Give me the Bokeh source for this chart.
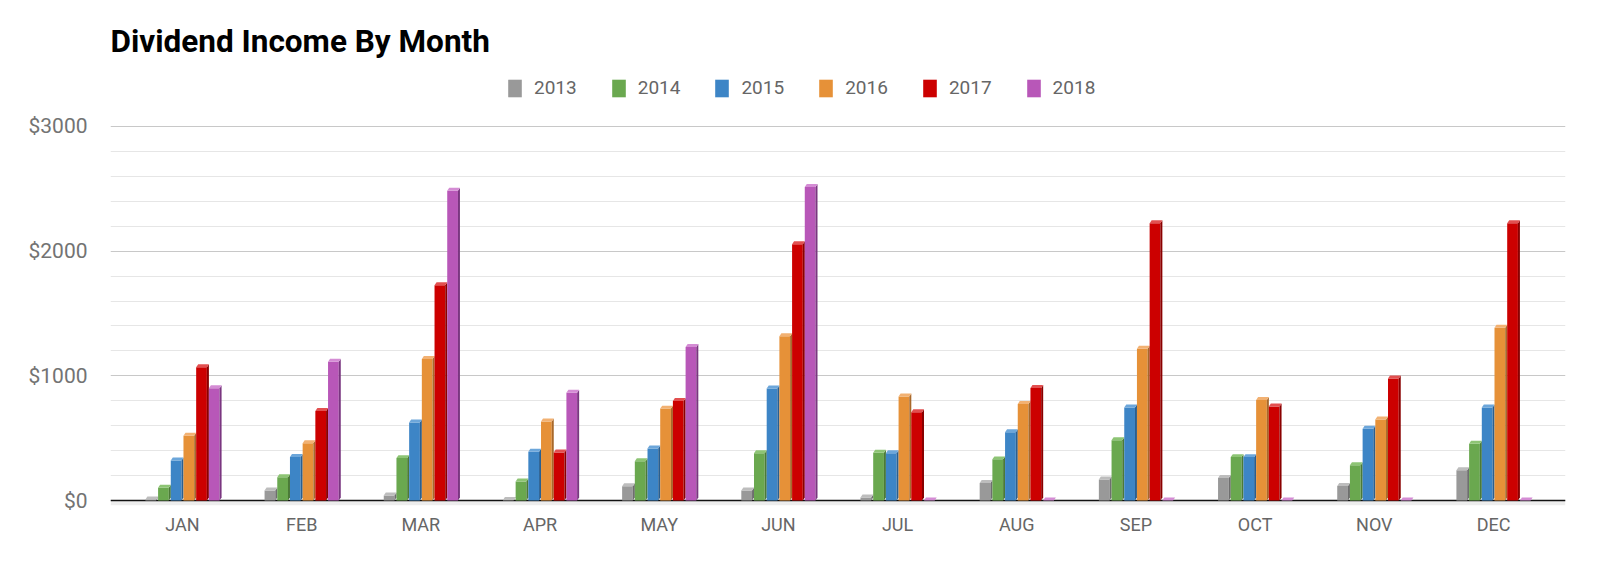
from bokeh.plotting import figure
from bokeh.models import (Range1d, FixedTicker, Legend, LegendItem, Label)
from bokeh.embed import file_html
from bokeh.resources import INLINE

# ---- data ----
months = ["JAN", "FEB", "MAR", "APR", "MAY", "JUN", "JUL", "AUG", "SEP", "OCT", "NOV", "DEC"]
years = ["2013", "2014", "2015", "2016", "2017", "2018"]
v2013 = [8, 80, 40, 5, 114, 80, 25, 141, 168, 181, 117, 242]
v2014 = [103, 187, 340, 152, 314, 380, 383, 330, 484, 348, 282, 455]
v2015 = [320, 350, 625, 391, 418, 899, 380, 548, 747, 348, 575, 747]
v2016 = [520, 460, 1135, 633, 737, 1317, 835, 774, 1218, 806, 649, 1386]
v2017 = [1068, 718, 1727, 386, 798, 2056, 708, 902, 2224, 755, 979, 2224]
v2018 = [900, 1113, 2485, 865, 1232, 2514, 0, 0, 0, 0, 0, 0]
series = [v2013, v2014, v2015, v2016, v2017, v2018]
y_ticks = [0, 1000, 2000, 3000]
y_labels = ["$0", "$1000", "$2000", "$3000"]
y_minor = [200, 400, 600, 800, 1200, 1400, 1600, 1800, 2200, 2400, 2600, 2800]

front = ["#999999", "#6aa84f", "#3d85c6", "#e69138", "#cc0000", "#b857b8"]
side = ["#6e6e6e", "#4b7a37", "#2a5f90", "#a8682a", "#8a0000", "#7a3680"]
top = ["#bdbdbd", "#8dc474", "#6ca6da", "#f2b172", "#e25050", "#d48cd4"]

# ---- figure ----
PX_PER_USD = 0.1247
TOP_SPACE = 126  # px above the $3000 line, kept inside the frame
X0, X1 = -0.604, 11.604
Y0, Y1 = -40, 3000 + TOP_SPACE / PX_PER_USD
p = figure(width=1584, height=546, output_backend="svg", toolbar_location=None,
           x_range=Range1d(X0, X1), y_range=Range1d(Y0, Y1),
           min_border_left=110, min_border_right=19, min_border_top=0,
           min_border_bottom=41, background_fill_color="white",
           border_fill_color="white", outline_line_color=None)

p.xgrid.grid_line_color = None
p.yaxis.ticker = FixedTicker(ticks=y_ticks, minor_ticks=y_minor)
p.yaxis.major_label_overrides = {t: l for t, l in zip(y_ticks, y_labels)}
p.yaxis.axis_line_color = None
p.yaxis.major_tick_line_color = None
p.yaxis.minor_tick_line_color = None
p.yaxis.major_label_standoff = 17
p.yaxis.major_label_text_font = "Roboto"
p.yaxis.major_label_text_font_size = "21px"
p.yaxis.major_label_text_color = "#737373"
p.ygrid.grid_line_color = "#c8c8c8"
p.ygrid.grid_line_width = 1.2
p.ygrid.minor_grid_line_color = "#e6e6e6"
p.ygrid.minor_grid_line_width = 1.2

p.xaxis.ticker = FixedTicker(ticks=list(range(12)))
p.xaxis.major_label_overrides = {i: m for i, m in enumerate(months)}
p.xaxis.axis_line_color = None
p.xaxis.major_tick_line_color = None
p.xaxis.minor_tick_line_color = None
p.xaxis.major_label_standoff = 2
p.xaxis.major_label_text_font = "Roboto"
p.xaxis.major_label_text_font_size = "18px"
p.xaxis.major_label_text_color = "#666666"

# floor and baseline
p.hstrip(y0=[Y0], y1=[0], fill_color="#ededed", line_color=None)
p.hspan(y=[0], line_color="#111111", line_width=1.6)

# ---- 3D-ish bars ----
pitch = 0.1065
w = 0.09
dx = 0.0168
dy = 24
items = []
for j, vals in enumerate(series):
    xc = [i + (j - 2.5) * pitch for i in range(len(months))]
    xl = [c - w / 2 for c in xc]
    xr = [c + w / 2 for c in xc]
    r = p.quad(left=xl, right=xr, bottom=[0] * len(vals), top=vals,
               fill_color=front[j], line_color=None)
    sx = [[a, a + dx, a + dx, a] for a in xr]
    sy = [[0, dy, v + dy, v] for v in vals]
    p.patches(sx, sy, fill_color=side[j], line_color=None)
    tx = [[a, a + dx, b + dx, b] for a, b in zip(xl, xr)]
    ty = [[v, v + dy, v + dy, v] for v in vals]
    p.patches(tx, ty, fill_color=top[j], line_color=None)
    items.append(LegendItem(label=years[j], renderers=[r]))

legend = Legend(items=items, orientation="horizontal", location=(396, 406),
                glyph_width=17, glyph_height=22, label_height=22,
                label_standoff=11, spacing=33, padding=0, margin=0,
                border_line_color=None, background_fill_alpha=0,
                label_text_font="Roboto", label_text_font_size="19px",
                label_text_color="#666666", label_text_baseline="middle")
p.add_layout(legend, "center")

title = Label(x=X0, y=3000 + 85 / PX_PER_USD, text="Dividend Income By Month",
              text_font="Roboto", text_font_style="bold", text_font_size="31.5px",
              text_color="#000000", text_baseline="middle", text_align="left")
p.add_layout(title)

open("out.html", "w").write(file_html(p, INLINE))
